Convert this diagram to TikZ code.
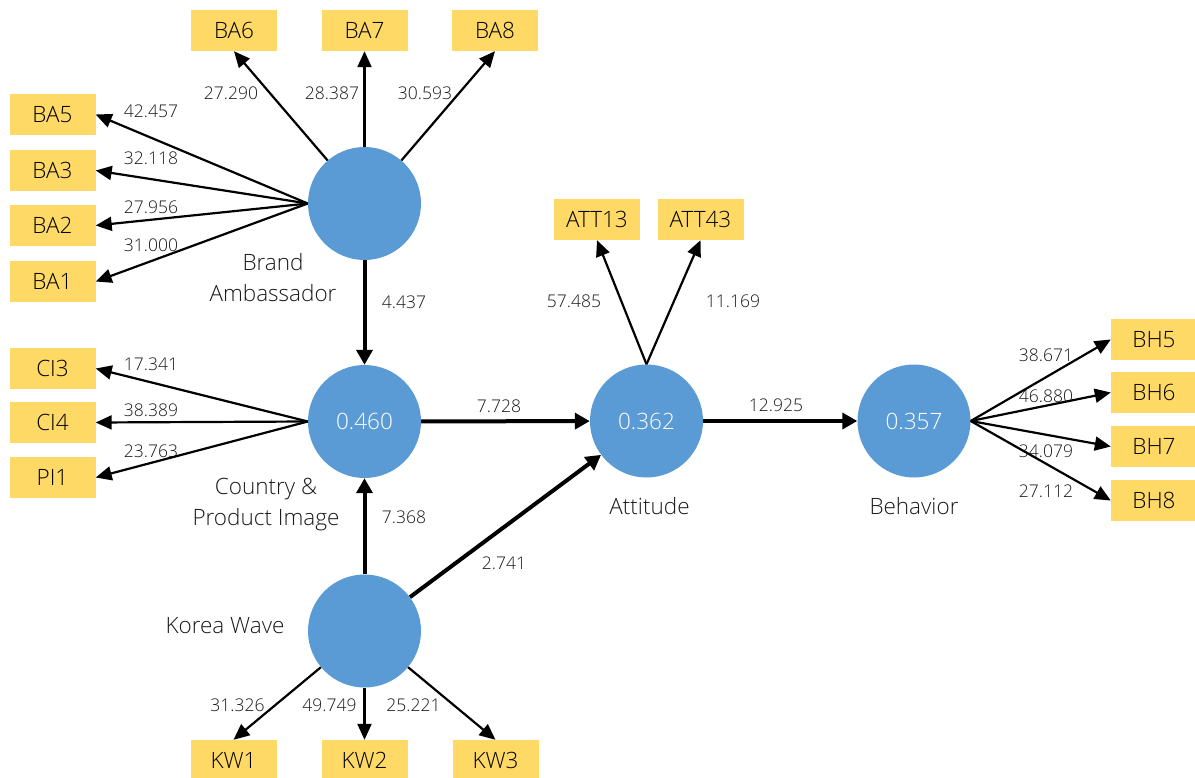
\documentclass[tikz,border=0pt]{standalone}
\usepackage{fontspec}
\IfFontExistsTF{Open Sans Light}{\setmainfont{Open Sans Light}}{\setmainfont{Open Sans}}
\usetikzlibrary{arrows.meta}
\definecolor{lvblue}{RGB}{91,155,213}
\definecolor{mvyellow}{RGB}{255,217,102}
\begin{document}
\begin{tikzpicture}[x=1pt,y=-1pt,
 ind/.style={rectangle, fill=mvyellow, minimum width=86pt, minimum height=41pt, inner sep=0pt, font=\fontsize{22.5}{26}\selectfont, text=black},
 lv/.style={circle, fill=lvblue, minimum size=113pt, inner sep=0pt, text=white, font=\fontsize{22.5}{26}\selectfont},
 coef/.style={font=\fontsize{17.5}{20}\selectfont, inner sep=0pt, text=black!90},
 lvname/.style={font=\fontsize{22.5}{31}\selectfont, align=center, inner sep=0pt, text=black!90},
 meas/.style={line width=2.2pt, -{Triangle[length=16pt,width=14pt]}},
 struct/.style={line width=4pt, -{Triangle[length=15pt,width=16pt]}}
]
\useasboundingbox (0,0) rectangle (1195,778);
% latent variables
\node[lv] (ba) at (364.5,203.5) {};
\node[lv] (cpi) at (364.5,421.5) {0.460};
\node[lv] (kw) at (364.5,631) {};
\node[lv] (att) at (646.5,421) {0.362};
\node[lv] (beh) at (914,421) {0.357};
% indicators
\node[ind] (ba6) at (234,30.5) {BA6};
\node[ind] (ba7) at (364.5,30.5) {BA7};
\node[ind] (ba8) at (495,30.5) {BA8};
\node[ind] (ba5) at (52.5,114.5) {BA5};
\node[ind] (ba3) at (52.5,170.5) {BA3};
\node[ind] (ba2) at (52.5,225.5) {BA2};
\node[ind] (ba1) at (52.5,281.5) {BA1};
\node[ind] (ci3) at (52.5,368.5) {CI3};
\node[ind] (ci4) at (52.5,422.5) {CI4};
\node[ind] (pi1) at (52.5,477.5) {PI1};
\node[ind] (att13) at (597,219.5) {ATT13};
\node[ind] (att43) at (700.5,219.5) {ATT43};
\node[ind] (bh5) at (1154,339.5) {BH5};
\node[ind] (bh6) at (1154,392.5) {BH6};
\node[ind] (bh7) at (1154,446.5) {BH7};
\node[ind] (bh8) at (1154,500.5) {BH8};
\node[ind] (kw1) at (233.5,760.5) {KW1};
\node[ind] (kw2) at (364.5,760.5) {KW2};
\node[ind] (kw3) at (495.5,760.5) {KW3};
% coefficient labels
\node[coef] (l1) at (151,111) {42.457};
\node[coef] (l2) at (151,158) {32.118};
\node[coef] (l3) at (151,207) {27.956};
\node[coef] (l4) at (151,245) {31.000};
\node[coef] (l5) at (231,93) {27.290};
\node[coef] (l6) at (332,93) {28.387};
\node[coef] (l7) at (425,93) {30.593};
\node[coef] (l8) at (404,302) {4.437};
\node[coef] (l9) at (151,364) {17.341};
\node[coef] (l10) at (151,410) {38.389};
\node[coef] (l11) at (151,451) {23.763};
\node[coef] (l12) at (499,406) {7.728};
\node[coef] (l13) at (404,517) {7.368};
\node[coef] (l14) at (504,563) {2.741};
\node[coef] (l15) at (574,301) {57.485};
\node[coef] (l16) at (733,301) {11.169};
\node[coef] (l17) at (776,405) {12.925};
\node[coef] (l18) at (1046,355) {38.671};
\node[coef] (l19) at (1046,396) {46.880};
\node[coef] (l20) at (1046,451) {34.079};
\node[coef] (l21) at (1046,491) {27.112};
\node[coef] (l22) at (237.5,705) {31.326};
\node[coef] (l23) at (329.5,705) {49.749};
\node[coef] (l24) at (413.5,705) {25.221};
% latent names
\node[lvname] (nba) at (273,278) {Brand\\Ambassador};
\node[lvname] (ncpi) at (266,504.5) {Country \&\\Product Image};
\node[lvname] (nkw) at (225,626) {Korea Wave};
\node[lvname] (natt) at (649.5,506) {Attitude};
\node[lvname] (nbeh) at (914,506) {Behavior};
% measurement arrows
\draw[meas] (ba) -- (ba6.south);
\draw[meas] (ba.north) -- (ba7.south);
\draw[meas] (ba) -- (ba8.south);
\draw[meas] (ba.west) -- (ba5.east);
\draw[meas] (ba.west) -- (ba3.east);
\draw[meas] (ba.west) -- (ba2.east);
\draw[meas] (ba.west) -- (ba1.east);
\draw[meas] (cpi.west) -- (ci3.east);
\draw[meas] (cpi.west) -- (ci4.east);
\draw[meas] (cpi.west) -- (pi1.east);
\draw[meas] (att.north) -- (att13.south);
\draw[meas] (att.north) -- (att43.south);
\draw[meas] (beh.east) -- (bh5.west);
\draw[meas] (beh.east) -- (bh6.west);
\draw[meas] (beh.east) -- (bh7.west);
\draw[meas] (beh.east) -- (bh8.west);
\draw[meas] (kw) -- (kw1.north);
\draw[meas] (kw.south) -- (kw2.north);
\draw[meas] (kw) -- (kw3.north);
% structural arrows
\draw[struct] (ba) -- (cpi);
\draw[struct] (kw) -- (cpi);
\draw[struct] (cpi) -- (att);
\draw[struct] (att) -- (beh);
\draw[struct] (kw) -- (att);
\end{tikzpicture}
\end{document}
